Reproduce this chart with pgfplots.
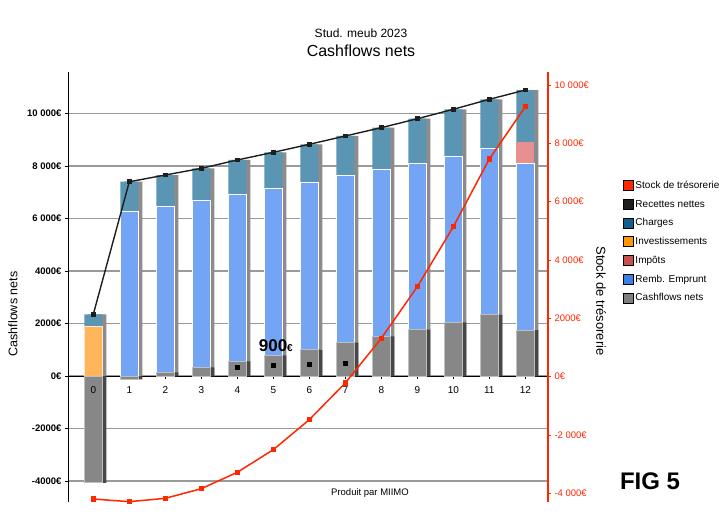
\documentclass[border=0pt]{standalone}
\usepackage{fontspec}
\setmainfont{Liberation Sans}
\usepackage{pgfplots}
\pgfplotsset{compat=1.18}

\definecolor{legred}{HTML}{FF2600}
\definecolor{legblack}{HTML}{1E1E1E}
\definecolor{legcharge}{HTML}{125E8E}
\definecolor{leginv}{HTML}{FF9800}
\definecolor{legimp}{HTML}{C8504E}
\definecolor{legremb}{HTML}{3A80EA}
\definecolor{leggray}{HTML}{7E7E7E}
\definecolor{chargeC}{HTML}{5A95B3}
\definecolor{rembC}{HTML}{74A5F4}
\definecolor{invC}{HTML}{FFB55A}
\definecolor{impC}{HTML}{E89090}
\definecolor{grayC}{HTML}{878787}
\definecolor{gridc}{HTML}{9A9A9A}

\pgfplotsset{
  bars/.style={ybar, bar width=18pt, bar shift=0pt},
}

\begin{document}
\begin{tikzpicture}
\path[use as bounding box] (0,0) rectangle (727pt,530pt);

% left axis: bars (painted from the top of each stack down) + recettes nettes
\begin{axis}[
  at={(68pt,28pt)}, anchor=south west, scale only axis,
  width=480pt, height=430pt,
  xmin=-0.703, xmax=12.63, ymin=-4800, ymax=11581,
  axis y line*=left, axis x line*=middle,
  axis line style={black, line width=1pt},
  scaled y ticks=false,
  xtick={0,...,12}, xticklabels={},
  ytick={-4000,-2000,...,10000},
  yticklabels={-4000€,-2000€,0€,2000€,4000€,6 000€,8 000€,10 000€},
  yticklabel style={font=\fontsize{9.5}{10}\selectfont\bfseries},
  ymajorgrids, grid style={gridc, line width=1.2pt},
  tick align=outside, major tick length=3pt,
  tick style={black, line width=0.8pt},
]
% shadows
\addplot[bars, bar shift=4pt, fill=black!45, draw=none] coordinates {
  (0,2350) (1,7400) (2,7657) (3,7910) (4,8230) (5,8520) (6,8826)
  (7,9143) (8,9460) (9,9800) (10,10160) (11,10540) (12,10895)};
\addplot[bars, bar shift=4pt, fill=black!72, draw=none] coordinates {
  (0,-4070) (1,-130) (2,140) (3,330) (4,560) (5,790) (6,1000)
  (7,1270) (8,1510) (9,1770) (10,2040) (11,2330) (12,1750)};
% Charges (top of stack = recettes nettes)
\addplot[bars, fill=chargeC, draw=none] coordinates {
  (0,2350) (1,7400) (2,7657) (3,7910) (4,8230) (5,8520) (6,8826)
  (7,9143) (8,9460) (9,9800) (10,10160) (11,10540) (12,10895)};
% Investissements
\addplot[bars, fill=invC, draw=white!80!orange, line width=0.8pt] coordinates {
  (0,1880)};
% Impots
\addplot[bars, fill=impC, draw=none] coordinates {
  (12,8900)};
% Remb. Emprunt
\addplot[bars, fill=rembC, draw=white, line width=1pt] coordinates {
  (1,6260) (2,6476) (3,6700) (4,6920) (5,7150) (6,7365)
  (7,7630) (8,7873) (9,8100) (10,8380) (11,8670) (12,8100)};
% Cashflows nets
\addplot[bars, fill=grayC, draw=black!25, line width=0.8pt] coordinates {
  (0,-4070) (1,-130) (2,140) (3,330) (4,560) (5,790) (6,1000)
  (7,1270) (8,1510) (9,1770) (10,2040) (11,2330) (12,1750)};
\addplot[only marks, mark=square*, mark size=2pt, black] coordinates {
  (4,330) (5,420) (6,457) (7,495)};
% Recettes nettes
\addplot[legblack, line width=1.4pt, mark=square*, mark size=1.6pt] coordinates {
  (0,2350) (1,7400) (2,7657) (3,7910) (4,8230) (5,8520) (6,8826)
  (7,9143) (8,9460) (9,9800) (10,10160) (11,10540) (12,10895)};
\node[font=\fontsize{17}{18}\selectfont\bfseries] at (axis cs:5.07,1143)
  {900{\fontsize{10}{10}\selectfont€}};
\end{axis}

% right axis: stock de tresorerie (also carries the x labels, drawn over the bars)
\begin{axis}[
  at={(68pt,28pt)}, anchor=south west, scale only axis,
  width=480pt, height=430pt,
  xmin=-0.703, xmax=12.63, ymin=-4296, ymax=10446,
  axis y line*=right, axis x line*=middle,
  x axis line style={draw=none},
  scaled y ticks=false,
  /pgf/number format/assume math mode=true,
  xtick={0,...,12}, xtick style={draw=none},
  xticklabel style={font=\fontsize{10}{11}\selectfont, yshift=-3pt},
  y axis line style={legred, line width=1.5pt},
  ytick={-4000,-2000,...,10000},
  yticklabels={-4 000€,-2 000€,0€,2000€,4 000€,6 000€,8 000€,10 000€},
  yticklabel style={legred, font=\fontsize{9.5}{10}\selectfont},
  tick align=outside, major tick length=3pt,
  ytick style={legred, line width=0.8pt},
  legend style={at={(1.156,0.751)}, anchor=north west, draw=none, fill=none,
    inner sep=0pt, row sep=6pt, font=\fontsize{10}{11}\selectfont,
    cells={anchor=west}},
  legend image code/.code={\fill[#1] (0pt,-5pt) rectangle (10pt,5pt);},
]
\addlegendimage{fill=legred}
\addlegendentry{Stock de trésorerie}
\addlegendimage{fill=legblack}
\addlegendentry{Recettes nettes}
\addlegendimage{fill=legcharge}
\addlegendentry{Charges}
\addlegendimage{fill=leginv}
\addlegendentry{Investissements}
\addlegendimage{fill=legimp}
\addlegendentry{Impôts}
\addlegendimage{fill=legremb}
\addlegendentry{Remb. Emprunt}
\addlegendimage{fill=leggray}
\addlegendentry{Cashflows nets}
\addplot[legred, line width=1.5pt, mark=square*, mark size=1.8pt, forget plot] coordinates {
  (0,-4193) (1,-4285) (2,-4170) (3,-3840) (4,-3278) (5,-2502) (6,-1474)
  (7,-215) (8,1316) (9,3086) (10,5142) (11,7463) (12,9256)};
\end{axis}

\node at (361pt,497pt) {\fontsize{12}{14}\selectfont Stud. meub 2023};
\node at (361pt,479pt) {\fontsize{16}{18}\selectfont Cashflows nets};
\node[rotate=90] at (13pt,216pt) {\fontsize{12.5}{14}\selectfont Cashflows nets};
\node[rotate=-90] at (601pt,229pt) {\fontsize{13}{15}\selectfont Stock de trésorerie};
\node at (370pt,37pt) {\fontsize{9.5}{11}\selectfont Produit par MIIMO};
\node at (650pt,49pt) {\fontsize{24}{26}\selectfont\bfseries FIG 5};
\end{tikzpicture}
\end{document}
